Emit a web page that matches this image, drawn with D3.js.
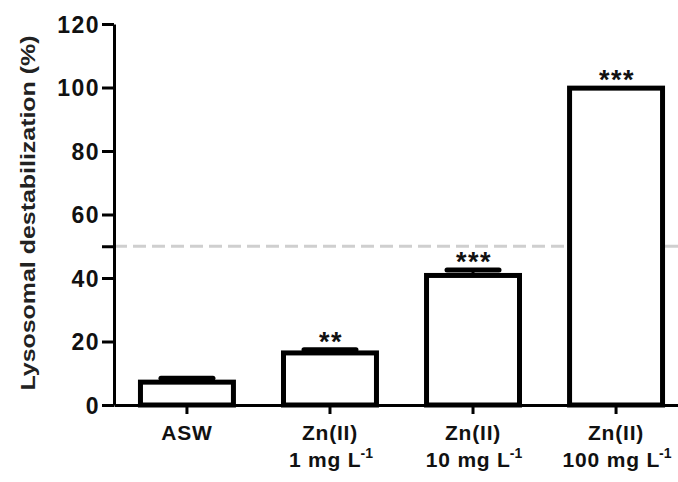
<!DOCTYPE html>
<html>
<head>
<meta charset="utf-8">
<script src="https://cdn.jsdelivr.net/npm/d3@7"></script>
<style>
  body { margin: 0; background: #fff; }
  svg { display: block; font-family: "Liberation Sans", Arial, sans-serif; }
</style>
</head>
<body>
<div id="chart"></div>
<script>
// data
var groups = ["ASW", "Zn1", "Zn10", "Zn100"];
var line1 = ["ASW", "Zn(II)", "Zn(II)", "Zn(II)"];
var line2 = ["", "1 mg L", "10 mg L", "100 mg L"];
var means = [7.2, 16.4, 40.8, 99.8];
var errs = [1.2, 1.0, 1.7, 0];
var stars = ["", "**", "***", "***"];
var yTicks = [0, 20, 40, 50, 60, 80, 100, 120];
var threshold = 50;

var w = 678, h = 482;
var svg = d3.select("#chart")
            .append("svg")
            .attr("width", w)
            .attr("height", h);

// scales
var xScale = d3.scaleBand()
               .domain(groups)
               .range([114, 689])
               .paddingInner(0.35)
               .paddingOuter(0.185);

var yScale = d3.scaleLinear()
               .domain([0, 120])
               .range([405, 24]);

// dashed reference line at 50 %
svg.append("line")
   .attr("x1", 114)
   .attr("x2", w)
   .attr("y1", yScale(threshold))
   .attr("y2", yScale(threshold))
   .attr("stroke", "#cfcfcf")
   .attr("stroke-width", 3)
   .attr("stroke-dasharray", "13,6");

// bars
var bars = svg.append("g").attr("id", "bars");
bars.selectAll("rect")
    .data(groups)
    .enter()
    .append("rect")
    .attr("x", (d) => xScale(d))
    .attr("y", (d, i) => yScale(means[i]))
    .attr("width", xScale.bandwidth())
    .attr("height", (d, i) => yScale(0) - yScale(means[i]))
    .attr("fill", "#fff")
    .attr("stroke", "#000")
    .attr("stroke-width", 5);

// error bars (mean + SEM, upward only)
var capW = 52;
groups.forEach(function(g, i) {
  if (errs[i] <= 0) return;
  var cx = xScale(g) + xScale.bandwidth() / 2;
  svg.append("line")
     .attr("x1", cx).attr("x2", cx)
     .attr("y1", yScale(means[i])).attr("y2", yScale(means[i] + errs[i]))
     .attr("stroke", "#000").attr("stroke-width", 3);
  svg.append("line")
     .attr("x1", cx - capW / 2).attr("x2", cx + capW / 2)
     .attr("y1", yScale(means[i] + errs[i])).attr("y2", yScale(means[i] + errs[i]))
     .attr("stroke", "#000").attr("stroke-width", 5)
     .attr("stroke-linecap", "round");
});

// significance stars
svg.append("g")
   .selectAll("text")
   .data(groups)
   .enter()
   .append("text")
   .attr("x", (d) => xScale(d) + xScale.bandwidth() / 2 + 1)
   .attr("y", (d, i) => yScale(means[i] + errs[i]) + 1)
   .attr("text-anchor", "middle")
   .style("font-size", "27px")
   .style("font-weight", "bold")
   .style("letter-spacing", "1.5px")
   .attr("fill", "#111")
   .text((d, i) => stars[i]);

// y axis
var yAxis = d3.axisLeft(yScale)
              .tickValues(yTicks)
              .tickSize(12)
              .tickSizeOuter(0)
              .tickPadding(2)
              .tickFormat((d) => d === threshold ? "" : d);

var gy = svg.append("g")
            .attr("transform", "translate(114,0)")
            .call(yAxis);
gy.select(".domain").attr("stroke-width", 3);
gy.selectAll(".tick line").attr("stroke-width", 3);
gy.selectAll(".tick text")
  .style("font-size", "23px")
  .style("font-weight", "bold")
  .style("letter-spacing", "1.5px")
  .attr("dy", "0.36em")
  .attr("fill", "#111");

// x axis
var xAxis = d3.axisBottom(xScale)
              .tickSize(9)
              .tickSizeOuter(0)
              .tickFormat("");

var gx = svg.append("g")
            .attr("transform", "translate(0,405)")
            .call(xAxis);
gx.select(".domain").attr("stroke-width", 3);
gx.selectAll(".tick line").attr("stroke-width", 3);

// x labels, two lines with superscript unit
svg.append("g")
   .selectAll("text")
   .data(groups)
   .enter()
   .append("text")
   .attr("x", (d) => xScale(d) + xScale.bandwidth() / 2)
   .attr("y", 440)
   .attr("text-anchor", "middle")
   .style("font-size", "21px")
   .style("font-weight", "bold")
   .style("letter-spacing", "0.8px")
   .attr("fill", "#111")
   .text((d, i) => line1[i]);

var l2 = svg.append("g")
            .selectAll("text")
            .data(groups.filter((d, i) => line2[i] !== ""))
            .enter()
            .append("text")
            .attr("x", (d) => xScale(d) + xScale.bandwidth() / 2 + 1)
            .attr("y", 467)
            .attr("text-anchor", "middle")
            .style("font-size", "21px")
            .style("font-weight", "bold")
            .style("letter-spacing", "0.8px")
            .attr("fill", "#111");
l2.append("tspan").text((d) => line2[groups.indexOf(d)]);
l2.append("tspan")
  .attr("dy", -9)
  .attr("dx", -1)
  .style("font-size", "14px")
  .style("letter-spacing", "0px")
  .text("-1");

// y title
svg.append("text")
   .attr("transform", "translate(35,213) rotate(-90)")
   .attr("text-anchor", "middle")
   .style("font-size", "21px")
   .style("font-weight", "bold")
   .attr("textLength", 355)
   .attr("lengthAdjust", "spacingAndGlyphs")
   .attr("fill", "#222")
   .text("Lysosomal destabilization (%)");
</script>
</body>
</html>
